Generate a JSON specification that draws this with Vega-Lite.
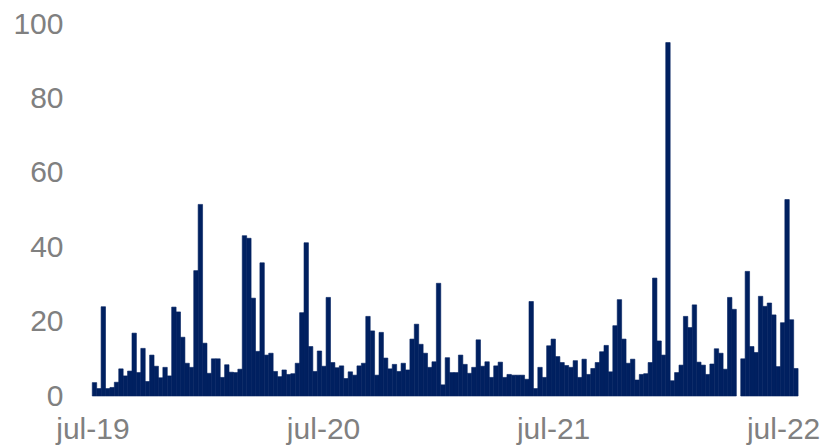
{
 "$schema": "https://vega.github.io/schema/vega-lite/v6.json",
 "width": 714,
 "height": 372,
 "autosize": "none",
 "padding": {"left": 88, "top": 24, "right": 21, "bottom": 51},
 "background": "white",
 "config": {"view": {"stroke": null}, "font": "Liberation Sans"},
 "data": {"values": [
{"week":"2019-06-30","value":3.6},{"week":"2019-07-07","value":2},{"week":"2019-07-14","value":24},{"week":"2019-07-21","value":2},{"week":"2019-07-28","value":2.3},{"week":"2019-08-04","value":3.7},{"week":"2019-08-11","value":7.3},{"week":"2019-08-18","value":5.4},{"week":"2019-08-25","value":6.7},{"week":"2019-09-01","value":16.9},{"week":"2019-09-08","value":6.3},{"week":"2019-09-15","value":12.8},{"week":"2019-09-22","value":3.9},{"week":"2019-09-29","value":11},{"week":"2019-10-06","value":8},{"week":"2019-10-13","value":4.9},{"week":"2019-10-20","value":7.7},{"week":"2019-10-27","value":5.4},{"week":"2019-11-03","value":23.9},{"week":"2019-11-10","value":22.6},{"week":"2019-11-17","value":15.8},{"week":"2019-11-24","value":8.8},{"week":"2019-12-01","value":7.7},{"week":"2019-12-08","value":33.7},{"week":"2019-12-15","value":51.5},{"week":"2019-12-22","value":14.2},{"week":"2019-12-29","value":6.1},
{"week":"2020-01-05","value":10},{"week":"2020-01-12","value":10},{"week":"2020-01-19","value":5},{"week":"2020-01-26","value":8.4},{"week":"2020-02-02","value":6.4},{"week":"2020-02-09","value":6.3},{"week":"2020-02-16","value":7.2},{"week":"2020-02-23","value":43.1},{"week":"2020-03-01","value":42.4},{"week":"2020-03-08","value":26.3},{"week":"2020-03-15","value":12},{"week":"2020-03-22","value":35.8},{"week":"2020-03-29","value":11},{"week":"2020-04-05","value":11.5},{"week":"2020-04-12","value":6.6},{"week":"2020-04-19","value":5.2},{"week":"2020-04-26","value":7},{"week":"2020-05-03","value":5.8},{"week":"2020-05-10","value":6},{"week":"2020-05-17","value":8.8},{"week":"2020-05-24","value":22.4},{"week":"2020-05-31","value":41.2},{"week":"2020-06-07","value":13.3},{"week":"2020-06-14","value":6.6},{"week":"2020-06-21","value":12.1},{"week":"2020-06-28","value":8},
{"week":"2020-07-05","value":26.5},{"week":"2020-07-12","value":9},{"week":"2020-07-19","value":7.6},{"week":"2020-07-26","value":8.1},{"week":"2020-08-02","value":4.7},{"week":"2020-08-09","value":6.5},{"week":"2020-08-16","value":5.6},{"week":"2020-08-23","value":8.1},{"week":"2020-08-30","value":8.8},
{"week":"2020-09-06","value":21.4},{"week":"2020-09-13","value":17.5},{"week":"2020-09-20","value":5.6},{"week":"2020-09-27","value":17.1},{"week":"2020-10-04","value":10.2},{"week":"2020-10-11","value":7.3},{"week":"2020-10-18","value":8.5},{"week":"2020-10-25","value":6.6},{"week":"2020-11-01","value":8.8},{"week":"2020-11-08","value":7},{"week":"2020-11-15","value":15.3},{"week":"2020-11-22","value":19.3},{"week":"2020-11-29","value":13.9},{"week":"2020-12-06","value":11.5},{"week":"2020-12-13","value":7.7},{"week":"2020-12-20","value":9.2},{"week":"2020-12-27","value":30.3},{"week":"2021-01-03","value":3},{"week":"2021-01-10","value":10.3},
{"week":"2021-01-17","value":6.3},{"week":"2021-01-24","value":6.3},{"week":"2021-01-31","value":11},{"week":"2021-02-07","value":8.5},{"week":"2021-02-14","value":6.1},{"week":"2021-02-21","value":7.7},{"week":"2021-02-28","value":15.1},{"week":"2021-03-07","value":8},{"week":"2021-03-14","value":9.2},{"week":"2021-03-21","value":5},{"week":"2021-03-28","value":8.1},{"week":"2021-04-04","value":9.1},{"week":"2021-04-11","value":5},{"week":"2021-04-18","value":5.8},{"week":"2021-04-25","value":5.6},{"week":"2021-05-02","value":5.6},{"week":"2021-05-09","value":5.6},{"week":"2021-05-16","value":4.5},{"week":"2021-05-23","value":25.4},{"week":"2021-05-30","value":2},{"week":"2021-06-06","value":7.7},{"week":"2021-06-13","value":5},{"week":"2021-06-20","value":13.5},{"week":"2021-06-27","value":15.3},{"week":"2021-07-04","value":10.6},{"week":"2021-07-11","value":9},
{"week":"2021-07-18","value":8.2},{"week":"2021-07-25","value":7.7},{"week":"2021-08-01","value":9.5},{"week":"2021-08-08","value":5},{"week":"2021-08-15","value":9.9},{"week":"2021-08-22","value":5.8},{"week":"2021-08-29","value":7.4},{"week":"2021-09-05","value":9},{"week":"2021-09-12","value":11.9},{"week":"2021-09-19","value":13.6},{"week":"2021-09-26","value":6.5},{"week":"2021-10-03","value":18.9},{"week":"2021-10-10","value":25.9},{"week":"2021-10-17","value":15.3},{"week":"2021-10-24","value":8.8},{"week":"2021-10-31","value":9.9},{"week":"2021-11-07","value":4.3},{"week":"2021-11-14","value":5.8},{"week":"2021-11-21","value":6},{"week":"2021-11-28","value":9},{"week":"2021-12-05","value":31.7},{"week":"2021-12-12","value":14.8},{"week":"2021-12-19","value":11},{"week":"2021-12-26","value":95},{"week":"2022-01-02","value":4.1},{"week":"2022-01-09","value":6.3},{"week":"2022-01-16","value":8.3},
{"week":"2022-01-23","value":21.4},{"week":"2022-01-30","value":18.4},{"week":"2022-02-06","value":24.5},{"week":"2022-02-13","value":9.1},{"week":"2022-02-20","value":8.3},{"week":"2022-02-27","value":5.8},{"week":"2022-03-06","value":8.6},{"week":"2022-03-13","value":12.7},{"week":"2022-03-20","value":11.5},{"week":"2022-03-27","value":7.2},{"week":"2022-04-03","value":26.5},{"week":"2022-04-10","value":23.3},{"week":"2022-04-24","value":10},{"week":"2022-05-01","value":33.5},{"week":"2022-05-08","value":13.3},{"week":"2022-05-15","value":11.7},{"week":"2022-05-22","value":26.8},{"week":"2022-05-29","value":24.1},{"week":"2022-06-05","value":25},{"week":"2022-06-12","value":21.8},{"week":"2022-06-19","value":7.9},{"week":"2022-06-26","value":19.7},{"week":"2022-07-03","value":52.8},{"week":"2022-07-10","value":20.5},{"week":"2022-07-17","value":7.4}
 ]},
 "mark": {"type": "bar", "color": "#002060", "binSpacing": 0, "timeUnitBandSize": 1, "timeUnitBandPosition": 0, "stroke": "#002060", "strokeWidth": 0.6},
 "encoding": {
  "x": {
   "field": "week", "timeUnit": "utcyearweek", "type": "temporal",
   "scale": {"domain": [{"year": 2019, "month": 6, "date": 24, "utc": true}, {"year": 2022, "month": 7, "date": 31, "utc": true}]},
   "axis": {
    "title": null,
    "values": [{"year": 2019, "month": 7, "date": 1, "utc": true}, {"year": 2020, "month": 7, "date": 1, "utc": true}, {"year": 2021, "month": 7, "date": 1, "utc": true}, {"year": 2022, "month": 7, "date": 1, "utc": true}],
    "labelExpr": "lower(utcFormat(datum.value, '%b-%y'))",
    "domain": false, "ticks": false, "grid": false,
    "labelFontSize": 30, "labelColor": "#808080", "labelPadding": 18,
    "labelFlush": false, "labelOverlap": false, "labelBound": false
   }
  },
  "y": {
   "field": "value", "type": "quantitative",
   "scale": {"domain": [0, 100]},
   "axis": {
    "title": null, "values": [0, 20, 40, 60, 80, 100],
    "domain": false, "ticks": false, "grid": false,
    "labelFontSize": 30, "labelColor": "#808080", "labelPadding": 25
   }
  }
 }
}
